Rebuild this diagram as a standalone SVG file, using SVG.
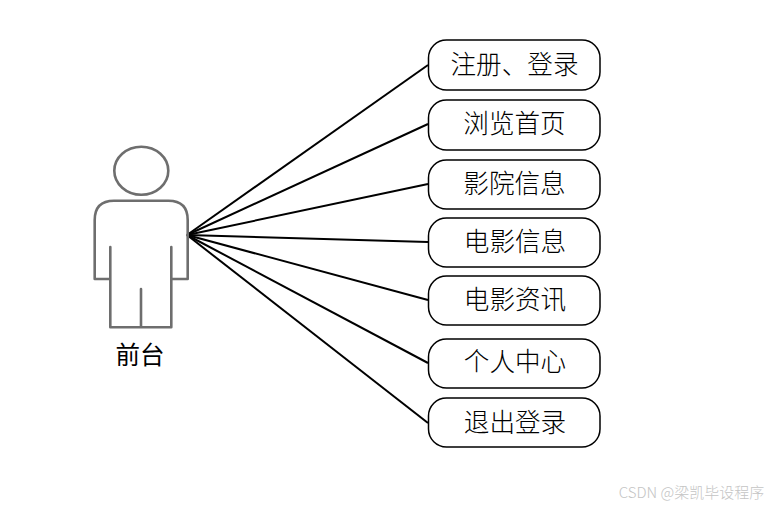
<svg xmlns="http://www.w3.org/2000/svg" width="769" height="507" viewBox="0 0 769 507">
<style>
.box{fill:#fff;stroke:#000;stroke-width:1.5}
.lbl{font-family:"Noto Sans CJK SC","Liberation Serif",serif;font-size:25.6px;font-weight:300;fill:#000;text-anchor:middle}
.con{stroke:#000;stroke-width:2;fill:none}
.act{fill:none;stroke:#6e6e6e;stroke-width:2.6;stroke-linejoin:round;stroke-linecap:round}
</style>
<rect width="769" height="507" fill="#fff"/>
<g id="connectors">
<line class="con" x1="187" y1="235" x2="428" y2="65"/>
<line class="con" x1="187" y1="235" x2="428" y2="124"/>
<line class="con" x1="187" y1="235" x2="428" y2="184"/>
<line class="con" x1="187" y1="235" x2="428" y2="242"/>
<line class="con" x1="187" y1="235" x2="428" y2="300"/>
<line class="con" x1="187" y1="235" x2="428" y2="363"/>
<line class="con" x1="187" y1="235" x2="428" y2="423"/>
</g>
<g id="actor">
<ellipse class="act" cx="141.3" cy="170.7" rx="27" ry="24"/>
<path class="act" d="M110.3 247V279H94.7V220Q94.7 200.7 114 200.7H168.4Q187.7 200.7 187.7 220V279H171.3V247M110.3 279V327.3H171.3V279M141 289V327.3"/>
<text x="140" y="364" style="font-family:'Noto Sans CJK SC','Liberation Sans',sans-serif;font-size:24.5px;font-weight:400;text-anchor:middle;fill:#000">前台</text>
</g>
<g id="n1"><rect class="box" x="428.5" y="40" width="171.5" height="50" rx="18"/><text class="lbl" x="514.5" y="74">注册、登录</text></g>
<g id="n2"><rect class="box" x="428.5" y="100" width="171.5" height="50" rx="18"/><text class="lbl" x="514.5" y="133">浏览首页</text></g>
<g id="n3"><rect class="box" x="428.5" y="160" width="171.5" height="49" rx="18"/><text class="lbl" x="514.5" y="193">影院信息</text></g>
<g id="n4"><rect class="box" x="428.5" y="218" width="171.5" height="49" rx="18"/><text class="lbl" x="515" y="251">电影信息</text></g>
<g id="n5"><rect class="box" x="428.5" y="276" width="171.5" height="49" rx="18"/><text class="lbl" x="515" y="309">电影资讯</text></g>
<g id="n6"><rect class="box" x="428.5" y="339" width="171.5" height="49" rx="18"/><text class="lbl" x="515" y="371">个人中心</text></g>
<g id="n7"><rect class="box" x="428.5" y="398" width="171.5" height="49" rx="18"/><text class="lbl" x="515" y="432">退出登录</text></g>
<text x="691.5" y="498" style="font-family:'Noto Sans CJK SC','Liberation Sans',sans-serif;font-size:15px;font-weight:300;text-anchor:middle;fill:#c4c4c4">CSDN @梁凯毕设程序</text>
</svg>
